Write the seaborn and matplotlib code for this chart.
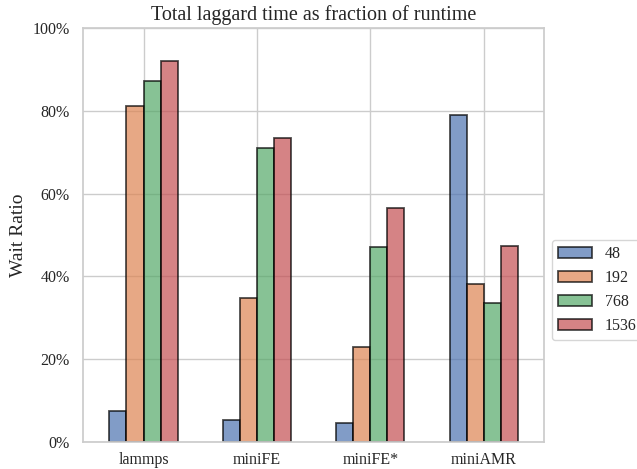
import matplotlib
matplotlib.use("Agg")
import matplotlib.pyplot as plt
from matplotlib.ticker import PercentFormatter
import pandas as pd
import seaborn as sns

apps = ["lammps", "miniFE", "miniFE*", "miniAMR"]
procs = ["48", "192", "768", "1536"]
# wait ratio per app, one list per process count
wait_48 = [0.074, 0.052, 0.046, 0.790]
wait_192 = [0.812, 0.347, 0.230, 0.382]
wait_768 = [0.873, 0.710, 0.470, 0.336]
wait_1536 = [0.920, 0.734, 0.565, 0.473]

rows = []
for p, vals in zip(procs, [wait_48, wait_192, wait_768, wait_1536]):
    for app, v in zip(apps, vals):
        rows.append({"app": app, "procs": p, "wait": v})
df = pd.DataFrame(rows)

sns.set_theme(style="whitegrid", palette="deep")
plt.rcParams["font.family"] = ["Liberation Serif", "DejaVu Serif"]

fig, ax = plt.subplots(figsize=(6.37, 4.69), dpi=100)
fig.subplots_adjust(left=0.130, right=0.854, top=0.940, bottom=0.058)

sns.barplot(data=df, x="app", y="wait", hue="procs", hue_order=procs,
            width=0.6, saturation=1, alpha=0.7, edgecolor="black",
            linewidth=1.3, errorbar=None, ax=ax)

ax.set_ylim(0, 1)
ax.set_xlim(-0.535, 3.53)
ax.yaxis.set_major_formatter(PercentFormatter(1.0, decimals=0))
ax.set_xlabel("")
ax.set_ylabel("Wait Ratio", fontsize=14)
ax.set_title("Total laggard time as fraction of runtime", fontsize=14.5)
ax.tick_params(labelsize=11.5)
ax.tick_params(axis="x", pad=1.5)
ax.xaxis.grid(True)

sns.move_legend(ax, "center left", bbox_to_anchor=(1, 0.367), title=None,
                fontsize=11.5, handlelength=2.1, frameon=True)

fig.savefig("out.png", dpi=100)
